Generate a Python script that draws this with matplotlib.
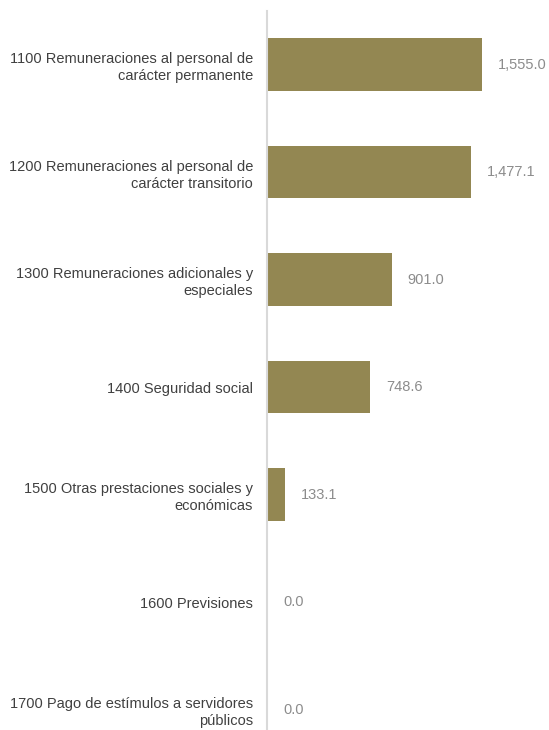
import matplotlib.pyplot as plt

plt.rcParams['font.family'] = ['Liberation Sans', 'DejaVu Sans']

categories = [
    "1100 Remuneraciones al personal de\ncarácter permanente",
    "1200 Remuneraciones al personal de\ncarácter transitorio",
    "1300 Remuneraciones adicionales y\nespeciales",
    "1400 Seguridad social",
    "1500 Otras prestaciones sociales y\neconómicas",
    "1600 Previsiones",
    "1700 Pago de estímulos a servidores\npúblicos",
]
values = [1555.0, 1477.1, 901.0, 748.6, 133.1, 0.0, 0.0]

bar_color = '#938752'

fig = plt.figure(figsize=(5.49, 7.30), dpi=100)
ax = fig.add_axes([267 / 549, 0, 1 - 267 / 549, 719.25 / 730])

pos = list(range(len(categories)))
ax.barh(pos, values, height=0.49, color=bar_color)

for p, v in zip(pos, values):
    ax.annotate('{:,.1f}'.format(v), xy=(v, p), xytext=(11.5, 0),
                textcoords='offset points', va='center', ha='left',
                fontsize=10.5, color='#8c8c8c')

ax.set_yticks(pos)
ax.set_yticklabels(categories, fontsize=10.5, color='#404040', linespacing=1.3)
ax.tick_params(axis='y', length=0, pad=10)
ax.set_xticks([])
ax.set_xlim(0, 2040)
ax.set_ylim(6.19, -0.5)

for s in ['top', 'right', 'bottom']:
    ax.spines[s].set_visible(False)
ax.spines['left'].set_color('#d9d9d9')
ax.spines['left'].set_linewidth(1.5)

fig.savefig('out.png', dpi=100)
